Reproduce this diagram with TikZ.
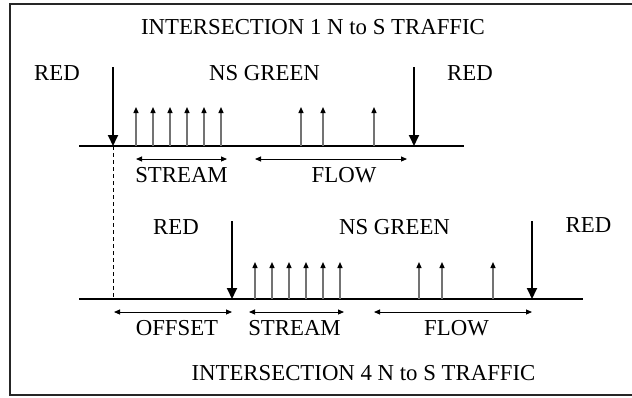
\documentclass[tikz,border=0pt]{standalone}
\usepackage{fontspec}
\setmainfont{Liberation Serif}
\usetikzlibrary{arrows.meta}
\begin{document}
\begin{tikzpicture}[x=1pt,y=-1pt,
  lbl/.style={inner sep=0pt,font=\fontsize{22.8}{26}\selectfont},
  axis/.style={line width=1.8pt},
  redarrow/.style={line width=1.8pt,-{Triangle[width=10pt,length=11pt]}},
  car/.style={line width=1.3pt,draw=black!55,-{Triangle[width=5pt,length=6pt,color=black]}},
  span/.style={line width=0.9pt,{Triangle[width=5pt,length=6pt]}-{Triangle[width=5pt,length=6pt]}},
  offsetline/.style={line width=0.8pt,dash pattern=on 4pt off 3pt}]
\useasboundingbox (0,0) rectangle (632,397);
\begin{scope}
\clip (0,0) rectangle (632,397);
\draw[line width=2pt,draw=black!85] (10,4) rectangle (660,395);
\end{scope}

% ---- Intersection 1 ----
\node[lbl] (t1) at (313,27) {INTERSECTION 1 N to S TRAFFIC};
\node[lbl] (r1a) at (57,73) {RED};
\node[lbl] (g1) at (264.5,73) {NS GREEN};
\node[lbl] (r1b) at (470,73) {RED};

\coordinate (b1s) at (79,146);
\coordinate (b1e) at (464,146);
\draw[axis] (b1s) -- (b1e);

\coordinate (a1t) at (113,67);  \coordinate (a1b) at (113,146);
\coordinate (c1t) at (414,67);  \coordinate (c1b) at (414,146);
\draw[redarrow] (a1t) -- (a1b);
\draw[redarrow] (c1t) -- (c1b);

\foreach \x [count=\i] in {136,153,170,187,204,221,301,323,374}{
  \coordinate (v1b\i) at (\x,146);
  \coordinate (v1t\i) at (\x,107);
  \draw[car] (v1b\i) -- (v1t\i);
}

\coordinate (s1l) at (136,159); \coordinate (s1r) at (227,159);
\draw[span] (s1l) -- (s1r);
\node[lbl] (st1) at (181.5,175) {STREAM};
\coordinate (f1l) at (255,159); \coordinate (f1r) at (407,159);
\draw[span] (f1l) -- (f1r);
\node[lbl] (fl1) at (344,175) {FLOW};

\coordinate (d2) at (113,299);
\draw[offsetline] (a1b) -- (d2);

% ---- Intersection 4 ----
\node[lbl] (r2a) at (176,227) {RED};
\node[lbl] (g2) at (394.5,227) {NS GREEN};
\node[lbl] (r2b) at (588.5,225) {RED};

\coordinate (b2s) at (79,299);
\coordinate (b2e) at (583,299);
\draw[axis] (b2s) -- (b2e);

\coordinate (a2t) at (232,221); \coordinate (a2b) at (232,299);
\coordinate (c2t) at (532,221); \coordinate (c2b) at (532,299);
\draw[redarrow] (a2t) -- (a2b);
\draw[redarrow] (c2t) -- (c2b);

\foreach \x [count=\i] in {255,272,289,306,323,340,419,442,493}{
  \coordinate (v2b\i) at (\x,299);
  \coordinate (v2t\i) at (\x,262);
  \draw[car] (v2b\i) -- (v2t\i);
}

\coordinate (o2l) at (114,312); \coordinate (o2r) at (232,312);
\draw[span] (o2l) -- (o2r);
\node[lbl] (of2) at (177,328) {OFFSET};
\coordinate (s2l) at (249,312); \coordinate (s2r) at (344,312);
\draw[span] (s2l) -- (s2r);
\node[lbl] (st2) at (294.5,328) {STREAM};
\coordinate (f2l) at (374,312); \coordinate (f2r) at (532,312);
\draw[span] (f2l) -- (f2r);
\node[lbl] (fl2) at (456.5,328) {FLOW};

\node[lbl] (t2) at (363.5,373) {INTERSECTION 4 N to S TRAFFIC};
\end{tikzpicture}
\end{document}
